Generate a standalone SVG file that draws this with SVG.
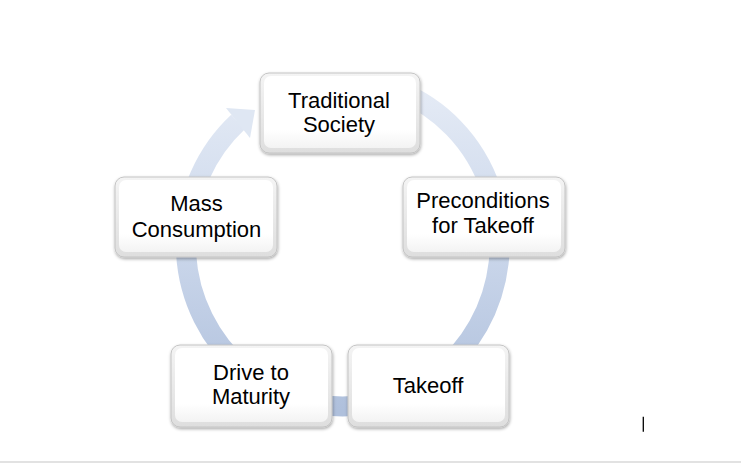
<svg xmlns="http://www.w3.org/2000/svg" width="741" height="463" viewBox="0 0 741 463">
<style>
.lbl{font-family:"Liberation Sans",Arial,sans-serif;font-size:22px;fill:#000;text-anchor:middle}
.box{fill:url(#boxGrad);stroke:#c4c4c4;stroke-width:1;filter:url(#shadow)}
.inner{fill:url(#innerGrad);stroke:none}
</style>
<defs>
<linearGradient id="bandGrad" gradientUnits="userSpaceOnUse" x1="0" y1="80" x2="0" y2="410">
<stop offset="0" stop-color="#e6ecf6"/>
<stop offset="0.5" stop-color="#cbd7eb"/>
<stop offset="1" stop-color="#afc0dc"/>
</linearGradient>
<linearGradient id="boxGrad" x1="0" y1="0" x2="0" y2="1">
<stop offset="0" stop-color="#f4f4f4"/>
<stop offset="1" stop-color="#dedede"/>
</linearGradient>
<linearGradient id="innerGrad" x1="0" y1="0" x2="0" y2="1">
<stop offset="0" stop-color="#ffffff"/>
<stop offset="0.75" stop-color="#ffffff"/>
<stop offset="1" stop-color="#f3f3f3"/>
</linearGradient>
<filter id="shadow" x="-10%" y="-10%" width="125%" height="130%">
<feDropShadow dx="0.5" dy="1.5" stdDeviation="1.5" flood-color="#000" flood-opacity="0.35"/>
</filter>
</defs>
<rect x="0" y="0" width="741" height="463" fill="#ffffff"/>
<g id="connectors">
<path d="M 400 91.6 A 157 163 0 1 1 238 122" fill="none" stroke="url(#bandGrad)" stroke-width="20"/>
<polygon points="226,108 255,110 250,138" fill="#dfe7f3"/>
</g>
<g id="node-traditional">
<rect class="box" x="260" y="73" width="160" height="80" rx="9"/>
<rect class="inner" x="264" y="76" width="152" height="72" rx="7"/>
<text class="lbl" x="339" y="107.7">Traditional</text>
<text class="lbl" x="339" y="131.7">Society</text>
</g>
<g id="node-preconditions">
<rect class="box" x="403" y="177" width="162" height="80" rx="9"/>
<rect class="inner" x="407" y="180" width="154" height="72" rx="7"/>
<text class="lbl" x="483" y="207.5">Preconditions</text>
<text class="lbl" x="483" y="232.5">for Takeoff</text>
</g>
<g id="node-takeoff">
<rect class="box" x="348" y="345" width="161" height="82" rx="9"/>
<rect class="inner" x="352" y="348" width="153" height="74" rx="7"/>
<text class="lbl" x="428" y="393.3">Takeoff</text>
</g>
<g id="node-drive">
<rect class="box" x="171" y="345" width="161" height="82" rx="9"/>
<rect class="inner" x="175" y="348" width="153" height="74" rx="7"/>
<text class="lbl" x="251" y="380">Drive to</text>
<text class="lbl" x="251" y="404">Maturity</text>
</g>
<g id="node-mass">
<rect class="box" x="115" y="177" width="162" height="80" rx="9"/>
<rect class="inner" x="119" y="180" width="154" height="72" rx="7"/>
<text class="lbl" x="196.5" y="211">Mass</text>
<text class="lbl" x="196.5" y="236.7">Consumption</text>
</g>
<line x1="643.3" y1="416.7" x2="643.3" y2="431.7" stroke="#000" stroke-width="1.3"/>
<rect x="0" y="461" width="741" height="2" fill="#e2e2e2"/>
</svg>
